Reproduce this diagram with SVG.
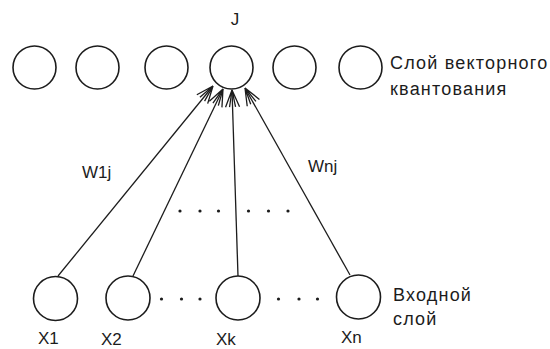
<svg xmlns="http://www.w3.org/2000/svg" width="550" height="349" viewBox="0 0 550 349">
  <style>
    .node { fill: none; stroke: #1c1c1c; stroke-width: 1.6; }
    .wire { fill: none; stroke: #1c1c1c; stroke-width: 1.3; }
    .lbl { font-family: "Liberation Sans", Arial, sans-serif; font-size: 17px; fill: #1c1c1c; }
    .cap { font-family: "Liberation Sans", Arial, sans-serif; font-size: 18px; fill: #1c1c1c; letter-spacing: 1.2px; }
    .dot { fill: #1c1c1c; }
  </style>
  <defs>
    <!-- open fan-shaped arrowhead -->
    <marker id="fan" viewBox="-20 -10 22 20" refX="0" refY="0" markerWidth="22" markerHeight="20" markerUnits="userSpaceOnUse" orient="auto">
      <path d="M0,0 L-17,-7 M0,0 L-17,7 M0,0 L-17,-3 M0,0 L-17,3" fill="none" stroke="#1c1c1c" stroke-width="1.3"/>
    </marker>
  </defs>

  <rect width="550" height="349" fill="#ffffff"/>

  <!-- vector quantization layer -->
  <g id="q1"><circle class="node" cx="34.5" cy="67.5" r="21.5"/></g>
  <g id="q2"><circle class="node" cx="97.5" cy="67.5" r="21.5"/></g>
  <g id="q3"><circle class="node" cx="166.5" cy="67.5" r="21.5"/></g>
  <g id="qJ">
    <circle class="node" cx="231.5" cy="67.5" r="21.5"/>
    <text class="lbl" x="235" y="25" text-anchor="middle">J</text>
  </g>
  <g id="q5"><circle class="node" cx="294.5" cy="67.5" r="21.5"/></g>
  <g id="q6"><circle class="node" cx="360.5" cy="67.5" r="21.5"/></g>
  <g id="q-caption">
    <text class="cap" x="390" y="69">Слой векторного</text>
    <text class="cap" x="390" y="95">квантования</text>
  </g>

  <!-- input layer -->
  <g id="x1">
    <circle class="node" cx="55.5" cy="298.5" r="22"/>
    <text class="lbl" x="38" y="344">X1</text>
  </g>
  <g id="x2">
    <circle class="node" cx="128" cy="298" r="22"/>
    <text class="lbl" x="101" y="345">X2</text>
  </g>
  <g id="xk">
    <circle class="node" cx="238" cy="298" r="22"/>
    <text class="lbl" x="216" y="345">Xk</text>
  </g>
  <g id="xn">
    <circle class="node" cx="358.5" cy="297" r="22"/>
    <text class="lbl" x="341" y="343">Xn</text>
  </g>
  <g id="x-caption">
    <text class="cap" x="393" y="301">Входной</text>
    <text class="cap" x="393" y="325">слой</text>
  </g>

  <!-- ellipsis dots -->
  <g id="dots">
    <circle class="dot" cx="180" cy="211" r="1.6"/>
    <circle class="dot" cx="200" cy="211" r="1.6"/>
    <circle class="dot" cx="218.5" cy="211" r="1.6"/>
    <circle class="dot" cx="248.5" cy="211" r="1.6"/>
    <circle class="dot" cx="268.5" cy="211" r="1.6"/>
    <circle class="dot" cx="288" cy="211" r="1.6"/>
    <circle class="dot" cx="161.5" cy="299" r="1.6"/>
    <circle class="dot" cx="181.5" cy="299" r="1.6"/>
    <circle class="dot" cx="200" cy="299" r="1.6"/>
    <circle class="dot" cx="278.5" cy="299" r="1.6"/>
    <circle class="dot" cx="299" cy="299" r="1.6"/>
    <circle class="dot" cx="317.5" cy="299" r="1.6"/>
  </g>

  <!-- weighted connections into J -->
  <g id="connectors">
    <line class="wire" x1="58" y1="276" x2="213" y2="86" marker-end="url(#fan)"/>
    <line class="wire" x1="133" y1="276" x2="223" y2="89" marker-end="url(#fan)"/>
    <line class="wire" x1="238" y1="276" x2="232" y2="90" marker-end="url(#fan)"/>
    <line class="wire" x1="350" y1="275" x2="245" y2="88" marker-end="url(#fan)"/>
    <text class="lbl" x="82" y="178">W1j</text>
    <text class="lbl" x="308" y="172">Wnj</text>
  </g>
</svg>
